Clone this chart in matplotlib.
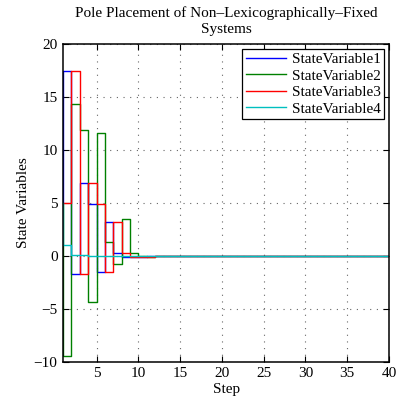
import numpy as np
import matplotlib
matplotlib.use('Agg')
import matplotlib.pyplot as plt

plt.rcParams['font.family'] = ['Liberation Serif', 'DejaVu Serif']

steps = np.arange(0, 41)

# state trajectories, step 0 .. 40
x1 = [5, 17.5, -1.7, 6.9, 4.85, -1.55, 3.15, 0.28, -0.12, -0.15,
      -0.1, -0.06, -0.03, -0.02, -0.01, 0, 0, 0, 0, 0,
      0, 0, 0, 0, 0, 0, 0, 0, 0, 0,
      0, 0, 0, 0, 0, 0, 0, 0, 0, 0, 0]
x2 = [5, -9.5, 14.3, 11.9, -4.4, 11.6, 1.35, -0.75, 3.45, 0.3,
      -0.05, -0.08, -0.06, -0.05, -0.04, -0.04, -0.03, -0.03, -0.02, 0,
      0, 0, 0, 0, 0, 0, 0, 0, 0, 0,
      0, 0, 0, 0, 0, 0, 0, 0, 0, 0, 0]
x3 = [5, 5, 17.5, -1.7, 6.9, 4.85, -1.55, 3.15, 0.28, -0.12,
      -0.15, -0.1, -0.06, -0.03, -0.02, -0.01, 0, 0, 0, 0,
      0, 0, 0, 0, 0, 0, 0, 0, 0, 0,
      0, 0, 0, 0, 0, 0, 0, 0, 0, 0, 0]
x4 = [5, 1.0, 0.1, 0.05, 0.03, 0.02, 0.01, 0, 0, 0,
      0, 0, 0, 0, 0, 0, 0, 0, 0, 0,
      0, 0, 0, 0, 0, 0, 0, 0, 0, 0,
      0, 0, 0, 0, 0, 0, 0, 0, 0, 0, 0]

names = ['StateVariable1', 'StateVariable2', 'StateVariable3', 'StateVariable4']
colors = ['#0000ff', '#008000', '#ff0000', '#00bfbf']

fig = plt.figure(figsize=(3.97, 4.01), dpi=100)
ax = fig.add_axes([0.159, 0.098, 0.821, 0.792])

for y, c, n in zip([x1, x2, x3, x4], colors, names):
    ax.step(steps, y, where='post', color=c, lw=1.0, label=n)

ax.set_xlim(1, 40)
ax.set_ylim(-10, 20)
ax.set_xticks(np.arange(5, 41, 5))
ax.set_yticks(np.arange(-10, 21, 5))
ax.tick_params(direction='in', top=True, right=True, labelsize=11, length=4, width=0.8, pad=4)
ax.grid(True, linestyle=(0, (1, 5)), color='#666666', linewidth=0.8)
for s in ax.spines.values():
    s.set_linewidth(1.1)

ax.set_title('Pole Placement of Non\u2013Lexicographically\u2013Fixed\nSystems', fontsize=11, linespacing=1.3, pad=8)
ax.set_xlabel('Step', fontsize=11, labelpad=2)
ax.set_ylabel('State Variables', fontsize=11, labelpad=3)

leg = ax.legend(loc='upper right', fontsize=11, fancybox=False, framealpha=1,
                edgecolor='black', handlelength=2.6, borderpad=0.25,
                labelspacing=0.18, handletextpad=0.4, borderaxespad=0.3)
leg.get_frame().set_linewidth(0.9)

fig.savefig('out.png', dpi=100)
